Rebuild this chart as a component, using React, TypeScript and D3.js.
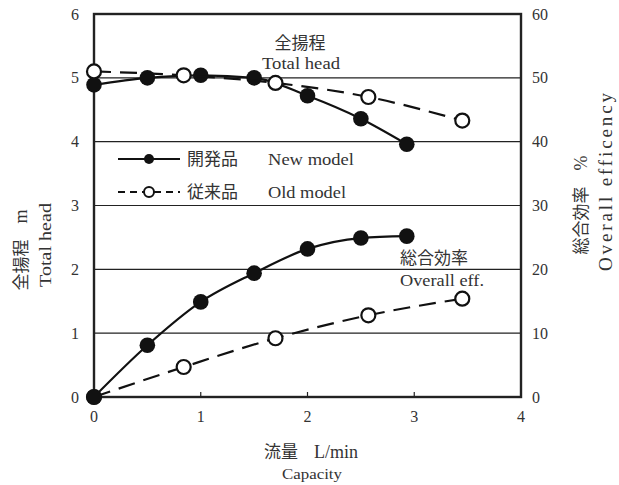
import React, { useEffect } from "react";
import * as d3 from "d3";

// flow (L/min) and readings for the two pumps
const flowNew = [0, 0.5, 1.0, 1.5, 2.0, 2.5, 2.93];
const headNew = [4.89, 5.0, 5.04, 5.0, 4.72, 4.36, 3.96];
const effNew = [0, 8.1, 14.9, 19.4, 23.2, 24.9, 25.2];

const flowOld = [0, 0.84, 1.7, 2.57, 3.45];
const headOld = [5.1, 5.04, 4.92, 4.7, 4.33];
const effOld = [0, 4.7, 9.2, 12.8, 15.4];

const xTicks = [0, 1, 2, 3, 4];
const headTicks = [0, 1, 2, 3, 4, 5, 6];
const effTicks = [0, 10, 20, 30, 40, 50, 60];

const W = 619;
const H = 485;
const margin = { top: 14, right: 98, bottom: 88, left: 94 };

const SERIF = "Liberation Serif, Times New Roman, DejaVu Serif, serif";
const CJK = "Noto Sans CJK JP, sans-serif";
const DASH = "17,9";
const ink = "#333";

const serif = (size: number) => ({ fontFamily: SERIF, fontSize: size });
const cjk = (size: number) => ({ fontFamily: CJK, fontSize: size });

const App = () => {
  useEffect(() => {
    document.body.style.margin = "0";
  }, []);

  const x = d3.scaleLinear().domain([0, 4]).range([margin.left, W - margin.right]);
  const yHead = d3.scaleLinear().domain([0, 6]).range([H - margin.bottom, margin.top]);
  const yEff = d3.scaleLinear().domain([0, 60]).range([H - margin.bottom, margin.top]);

  const pts = (xs: number[], ys: number[]) => xs.map((v, i) => [v, ys[i]] as [number, number]);

  const headLine = d3
    .line<[number, number]>()
    .x((d) => x(d[0]))
    .y((d) => yHead(d[1]))
    .curve(d3.curveMonotoneX);
  const effLine = d3
    .line<[number, number]>()
    .x((d) => x(d[0]))
    .y((d) => yEff(d[1]))
    .curve(d3.curveMonotoneX);

  const x0 = x(0);
  const x1 = x(4);
  const yb = yHead(0);
  const yt = yHead(6);

  return (
    <svg width={W} height={H} style={{ display: "block", background: "#fff" }}>
      {/* gridlines */}
      {headTicks.slice(1, -1).map((t) => (
        <line key={t} x1={x0} x2={x1} y1={yHead(t)} y2={yHead(t)} stroke="#222" strokeWidth={1.1} />
      ))}
      {/* inward x ticks */}
      {xTicks.slice(1, -1).map((t) => (
        <line key={t} x1={x(t)} x2={x(t)} y1={yb} y2={yb - 5} stroke="#222" strokeWidth={1.2} />
      ))}
      <rect x={x0} y={yt} width={x1 - x0} height={yb - yt} fill="none" stroke="#222" strokeWidth={2.4} />

      {/* tick labels */}
      {headTicks.map((t) => (
        <text key={"l" + t} x={x0 - 15} y={yHead(t)} dy="0.35em" textAnchor="end" style={serif(16)} fill={ink}>{t}</text>
      ))}
      {effTicks.map((t) => (
        <text key={"r" + t} x={x1 + 11} y={yEff(t)} dy="0.35em" textAnchor="start" style={serif(16)} fill={ink}>{t}</text>
      ))}
      {xTicks.map((t) => (
        <text key={"b" + t} x={x(t)} y={yb + 25} textAnchor="middle" style={serif(16)} fill={ink}>{t}</text>
      ))}

      {/* efficiency curves */}
      <path d={effLine(pts(flowOld, effOld)) || ""} fill="none" stroke="#111" strokeWidth={2.2} strokeDasharray={DASH} />
      {pts(flowOld, effOld).map((d, i) => (
        <circle key={"eo" + i} cx={x(d[0])} cy={yEff(d[1])} r={7} fill="#fff" stroke="#111" strokeWidth={2.2} />
      ))}
      <path d={effLine(pts(flowNew, effNew)) || ""} fill="none" stroke="#111" strokeWidth={2.2} />
      {pts(flowNew, effNew).map((d, i) => (
        <circle key={"en" + i} cx={x(d[0])} cy={yEff(d[1])} r={7.8} fill="#111" />
      ))}

      {/* head curves */}
      <path d={headLine(pts(flowNew, headNew)) || ""} fill="none" stroke="#111" strokeWidth={2.2} />
      {pts(flowNew, headNew).map((d, i) => (
        <circle key={"hn" + i} cx={x(d[0])} cy={yHead(d[1])} r={7.8} fill="#111" />
      ))}
      <path d={headLine(pts(flowOld, headOld)) || ""} fill="none" stroke="#111" strokeWidth={2.2} strokeDasharray={DASH} />
      {pts(flowOld, headOld).map((d, i) => (
        <circle key={"ho" + i} cx={x(d[0])} cy={yHead(d[1])} r={7} fill="#fff" stroke="#111" strokeWidth={2.2} />
      ))}

      {/* in-plot labels */}
      <text x={300} y={49} textAnchor="middle" style={cjk(17)} fill={ink}>全揚程</text>
      <text x={301} y={69} textAnchor="middle" style={serif(17)} fill={ink} textLength={78} lengthAdjust="spacingAndGlyphs">Total head</text>
      <text x={434} y={264} textAnchor="middle" style={cjk(17)} fill={ink}>総合効率</text>
      <text x={442} y={286} textAnchor="middle" style={serif(17)} fill={ink} textLength={84} lengthAdjust="spacingAndGlyphs">Overall eff.</text>

      {/* legend */}
      <line x1={118} x2={180} y1={159} y2={159} stroke="#111" strokeWidth={2} />
      <circle cx={149} cy={159} r={5} fill="#111" />
      <text x={187} y={165} style={cjk(17)} fill={ink}>開発品</text>
      <text x={268} y={165} style={serif(17)} fill={ink} textLength={86} lengthAdjust="spacingAndGlyphs">New model</text>
      <line x1={118} x2={180} y1={192} y2={192} stroke="#111" strokeWidth={2} strokeDasharray="7,5" />
      <circle cx={149} cy={192} r={5} fill="#fff" stroke="#111" strokeWidth={2} />
      <text x={187} y={198} style={cjk(17)} fill={ink}>従来品</text>
      <text x={268} y={198} style={serif(17)} fill={ink} textLength={78} lengthAdjust="spacingAndGlyphs">Old model</text>

      {/* axis titles */}
      <text x={311} y={458} textAnchor="middle" style={cjk(17)} fill={ink}>
        流量<tspan style={serif(18)} dx={16}>L/min</tspan>
      </text>
      <text x={312} y={479} textAnchor="middle" style={serif(15)} fill={ink} textLength={60} lengthAdjust="spacingAndGlyphs">Capacity</text>

      <text transform="translate(27,250) rotate(-90)" textAnchor="middle" style={cjk(17)} fill={ink}>
        全揚程<tspan style={serif(18)} dx={16}>m</tspan>
      </text>
      <text transform="translate(51,245) rotate(-90)" textAnchor="middle" style={serif(16)} fill={ink} textLength={84} lengthAdjust="spacingAndGlyphs">Total head</text>

      <text transform="translate(587,205) rotate(-90)" textAnchor="middle" style={cjk(17)} fill={ink}>
        総合効率<tspan style={serif(18)} dx={16}>%</tspan>
      </text>
      <text transform="translate(612,182) rotate(-90)" textAnchor="middle" style={serif(19)} fill={ink} textLength={178} lengthAdjust="spacing">Overall efficency</text>
    </svg>
  );
};

export default App;
